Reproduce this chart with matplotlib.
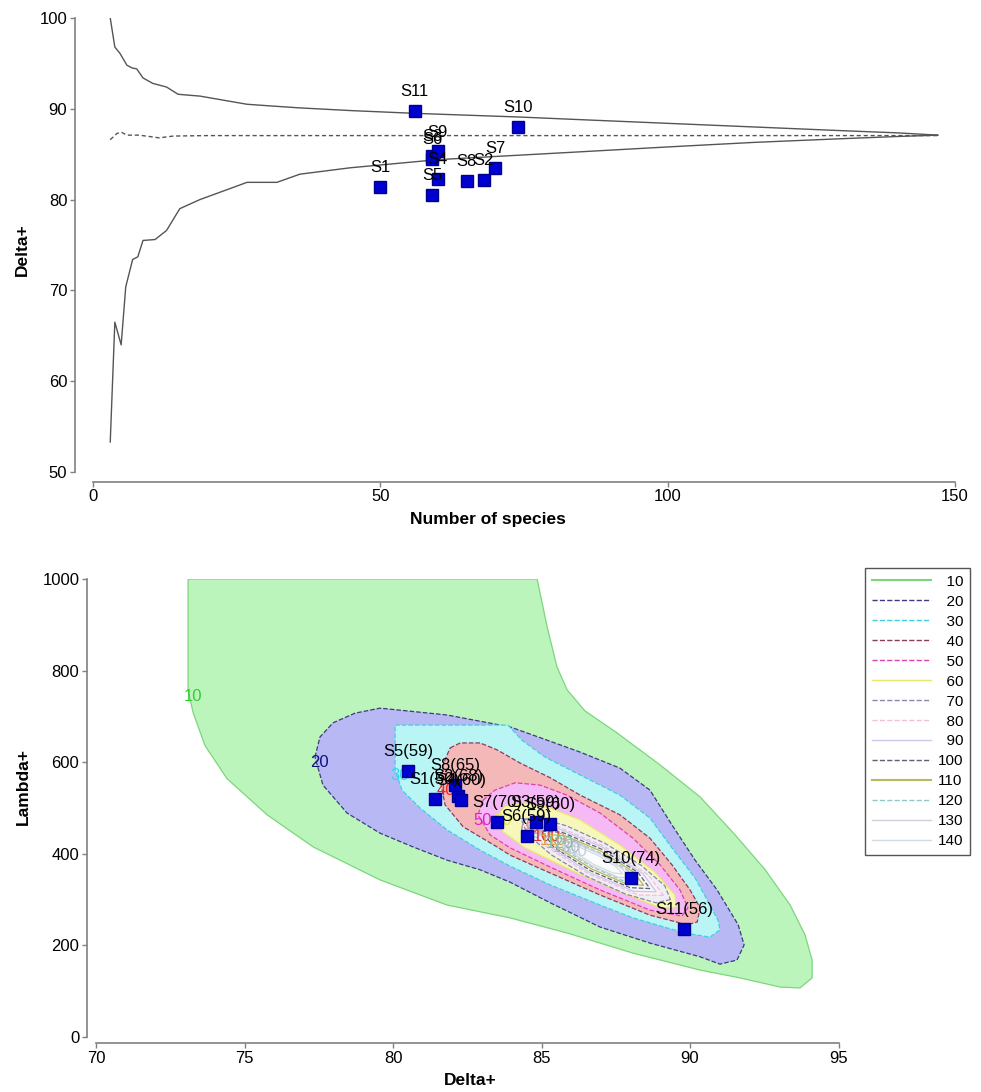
import numpy as np
import matplotlib
matplotlib.use('Agg')
import matplotlib.pyplot as plt
from matplotlib.lines import Line2D

plt.rcParams['font.family'] = ['Liberation Sans', 'DejaVu Sans']

#%% Sample values
sites = ['S1', 'S2', 'S3', 'S4', 'S5', 'S6', 'S7', 'S8', 'S9', 'S10', 'S11']
n_species = [50, 68, 59, 60, 59, 59, 70, 65, 60, 74, 56]
delta_plus = [81.4, 82.2, 84.8, 82.3, 80.5, 84.5, 83.5, 82.1, 85.3, 88.0, 89.8]
lambda_plus = [520, 526, 469, 517, 581, 439, 469, 550, 465, 347, 236]

#%% 95% funnel for Delta+ (top panel)
upper_x = [3, 3.8, 4.7, 5.9, 6.8, 7.6, 8.7, 10.4, 12.8, 14.8, 18.6, 26.8, 31.3, 36,
           45, 56, 65, 74, 85, 100, 115, 130, 140, 147]
upper_y = [100, 96.8, 96.1, 94.8, 94.5, 94.4, 93.4, 92.8, 92.4, 91.6, 91.4, 90.5, 90.3, 90.1,
           89.8, 89.5, 89.3, 89.1, 88.8, 88.4, 88.0, 87.6, 87.35, 87.1]
lower_x = [3, 3.8, 4.9, 5.7, 6.9, 7.8, 8.7, 10.8, 12.8, 15.1, 18.6, 26.8, 32, 36,
           44.7, 60, 83, 100, 115, 130, 140, 147]
lower_y = [53.3, 66.5, 64.0, 70.4, 73.4, 73.7, 75.5, 75.6, 76.6, 79.0, 80.0, 81.9, 81.9, 82.8,
           83.5, 84.4, 85.2, 85.8, 86.3, 86.7, 86.95, 87.1]
mean_x = [3, 4.2, 5, 5.9, 8, 10.4, 11.5, 14, 20, 147]
mean_y = [86.6, 87.3, 87.4, 87.1, 87.1, 86.9, 86.8, 87.0, 87.05, 87.05]

#%% Delta+/Lambda+ 95% regions per number of species (bottom panel)
levels = [10, 20, 30, 40, 50, 60, 70, 80, 90, 100, 110, 120, 130, 140]

region_10 = [(73.10, 1000), (84.85, 1000), (85.19, 895), (85.52, 808), (85.86, 758), (86.46, 712),
             (87.54, 664), (88.99, 594), (90.34, 524), (91.52, 441), (92.53, 365), (93.37, 288),
             (93.87, 223), (94.11, 168), (94.11, 129), (93.70, 107), (93.03, 109), (91.68, 129),
             (90.34, 146), (88.08, 183), (85.86, 227), (83.94, 260), (81.82, 288), (79.56, 343),
             (77.31, 415), (75.76, 485), (74.41, 564), (73.67, 636), (73.27, 708), (73.10, 756)]
region_20 = [(77.37, 611), (77.54, 655), (77.98, 686), (78.72, 707), (79.56, 718), (81.82, 703),
             (83.94, 677), (85.19, 648), (86.30, 622), (87.64, 587), (88.65, 539), (89.39, 463),
             (90.17, 386), (90.91, 321), (91.62, 245), (91.82, 201), (91.58, 168), (91.01, 159),
             (90.34, 175), (88.65, 205), (86.97, 240), (85.29, 293), (83.94, 338), (82.93, 365),
             (81.82, 386), (80.67, 415), (79.56, 445), (78.45, 489), (77.64, 550)]
region_30 = [(80.07, 681), (83.87, 681), (84.34, 648), (85.12, 611), (86.30, 572), (87.64, 528),
             (88.65, 478), (89.39, 413), (90.17, 347), (90.67, 288), (90.94, 255), (91.01, 234),
             (90.67, 218), (90.00, 225), (89.23, 238), (88.08, 260), (86.97, 288), (85.29, 332),
             (83.94, 373), (82.93, 408), (81.82, 452), (80.91, 500), (80.30, 539), (80.07, 583)]
region_40 = [(81.92, 631), (82.26, 642), (82.93, 642), (83.50, 627), (84.28, 598), (85.29, 566),
             (86.30, 528), (87.64, 485), (88.65, 434), (89.39, 376), (90.00, 321), (90.34, 282),
             (90.24, 251), (89.90, 245), (88.65, 266), (86.97, 310), (85.29, 358), (83.94, 397),
             (83.50, 415), (82.36, 459), (81.75, 507), (81.62, 550), (81.68, 594)]
region_50 = [(83.03, 517), (83.43, 539), (84.11, 555), (84.95, 550), (85.86, 528), (86.97, 489),
             (88.08, 434), (88.99, 376), (89.66, 321), (89.93, 282), (89.73, 264), (88.65, 277),
             (86.97, 321), (85.29, 371), (83.94, 413), (83.27, 441), (82.86, 485)]
region_60 = [(83.54, 485), (83.77, 504), (84.44, 511), (85.29, 500), (86.30, 474), (87.64, 419),
             (88.82, 360), (89.49, 310), (89.53, 282), (88.99, 282), (87.64, 317), (85.96, 365),
             (84.44, 413), (83.70, 448)]
region_70 = [(89.34, 300), (88.85, 293), (87.83, 312), (86.54, 350), (85.32, 398), (84.52, 443),
             (84.33, 473), (84.82, 480), (85.84, 461), (87.13, 423), (88.35, 375), (89.15, 330)]
region_80 = [(89.10, 309), (88.26, 310), (86.58, 356), (85.06, 420), (84.57, 464), (85.41, 463),
             (87.09, 417), (88.61, 353)]
region_90 = [(88.86, 317), (88.11, 318), (86.61, 359), (85.25, 417), (84.81, 456), (85.56, 455),
             (87.06, 414), (88.42, 356)]
region_100 = [(88.65, 324), (87.98, 326), (86.65, 363), (85.42, 414), (85.02, 449), (85.69, 447),
              (87.02, 410), (88.25, 359)]
region_110 = [(88.44, 331), (87.86, 334), (86.68, 367), (85.59, 412), (85.23, 442), (85.81, 439),
              (86.99, 406), (88.08, 361)]
region_120 = [(88.21, 339), (87.71, 342), (86.71, 371), (85.77, 409), (85.46, 434), (85.96, 431),
              (86.96, 402), (87.90, 364)]
region_130 = [(87.97, 347), (87.56, 349), (86.72, 373), (85.96, 405), (85.70, 426), (86.11, 424),
              (86.95, 400), (87.71, 368)]
region_140 = [(87.73, 356), (87.41, 358), (86.75, 377), (86.15, 402), (85.94, 417), (86.26, 415),
              (86.92, 396), (87.52, 371)]

regions = [region_10, region_20, region_30, region_40, region_50, region_60, region_70,
           region_80, region_90, region_100, region_110, region_120, region_130, region_140]

#%% Styles
fill_colors = ['#bbf5bb', '#b8b8f5', '#b9f5f5', '#f5b8b8', '#f5b9f5', '#f7f7b9', '#efeef7',
               '#fbf0f5', '#f5f5fc', '#f8f5f5', '#f8f8ea', '#f0f8f8', '#f9f9fc', '#fbfcfd']
edge_colors = ['#7cd67c', '#3c3c7c', '#40d0e0', '#8c3c5c', '#e040b0', '#e8e870', '#8888aa',
               '#f0c0d8', '#c8c8e8', '#606070', '#b8b860', '#90c8c8', '#d0d0dc', '#d0dce4']
line_styles = ['-', '--', '--', '--', '--', '-', '--', '--', '-', '--', '-', '--', '-', '-']
label_colors = ['#33cc33', '#101080', '#33d6f0', '#ee2222', '#dd22cc', '#e6e64a', '#9a9ac0',
                '#ff8c8c', '#b0b0e0', '#c83c3c', '#e0a040', '#80c0a0', '#b0b0c0', '#c0d0d8']
spine_gray = '#808080'
marker_kw = dict(marker='s', markersize=8.5, markerfacecolor='#0000d0',
                 markeredgecolor='#000090', linestyle='none', zorder=30)


def style_axes(ax, left_out, bottom_out):
    for side in ['top', 'right']:
        ax.spines[side].set_visible(False)
    for side, off in [('left', left_out), ('bottom', bottom_out)]:
        ax.spines[side].set_position(('outward', off))
        ax.spines[side].set_color(spine_gray)
        ax.spines[side].set_linewidth(1.2)
    ax.tick_params(colors=spine_gray, labelcolor='black', labelsize=12,
                   length=3.5, width=1.0, pad=2)


fig = plt.figure(figsize=(9.81, 10.92), dpi=100)

#%% Top panel: Delta+ funnel
ax1 = fig.add_axes([0.0948, 0.5678, 0.8787, 0.4157])
ax1.plot(upper_x, upper_y, color='#555555', lw=1.0)
ax1.plot(lower_x, lower_y, color='#555555', lw=1.0)
ax1.plot(mean_x, mean_y, color='#555555', lw=1.0, dashes=(3, 2))
ax1.plot(n_species, delta_plus, **marker_kw)
for name, x, y in zip(sites, n_species, delta_plus):
    ax1.annotate(name, (x, y), xytext=(0, 14), textcoords='offset points',
                 ha='center', va='center', fontsize=12, zorder=31)
ax1.set_xlim(0, 150)
ax1.set_ylim(50, 100)
ax1.set_xticks([0, 50, 100, 150])
ax1.set_yticks([50, 60, 70, 80, 90, 100])
style_axes(ax1, 13, 7)
ax1.spines['left'].set_bounds(50, 100)
ax1.spines['bottom'].set_bounds(0, 150)
ax1.set_xlabel('Number of species', fontsize=12.5, fontweight='bold')
ax1.set_ylabel('Delta+', fontsize=12.5, fontweight='bold')
ax1.xaxis.set_label_coords(0.458, -0.088)
ax1.yaxis.set_label_coords(-0.073, 0.49)

#%% Bottom panel: Delta+ vs Lambda+ regions
ax2 = fig.add_axes([0.0979, 0.0504, 0.7569, 0.4194])
handles = []
for i, (lev, reg) in enumerate(zip(levels, regions)):
    xs = np.array([p[0] for p in reg])
    ys = np.array([p[1] for p in reg])
    ax2.fill(xs, ys, facecolor=fill_colors[i], edgecolor=edge_colors[i],
             linestyle=line_styles[i], linewidth=0.9, zorder=2 + i)
    k = np.argmin(xs + 1e-6 * ys)
    ax2.text(xs[k] + 0.15, ys[k] - 12, str(lev), color=label_colors[i], fontsize=12,
             ha='center', va='center', zorder=20)
    handles.append(Line2D([], [], color=edge_colors[i], linestyle=line_styles[i],
                          linewidth=1.5 if i in (0, 10) else 1.0))

ax2.plot(delta_plus, lambda_plus, **marker_kw)
for name, n, x, y in zip(sites, n_species, delta_plus, lambda_plus):
    ax2.annotate('%s(%d)' % (name, n), (x, y), xytext=(0, 14), textcoords='offset points',
                 ha='center', va='center', fontsize=12, zorder=31)
ax2.set_xlim(70, 95)
ax2.set_ylim(0, 1000)
ax2.set_xticks([70, 75, 80, 85, 90, 95])
ax2.set_yticks([0, 200, 400, 600, 800, 1000])
style_axes(ax2, 6.5, 4.5)
ax2.spines['left'].set_bounds(0, 1000)
ax2.spines['bottom'].set_bounds(70, 95)
ax2.set_xlabel('Delta+', fontsize=12.5, fontweight='bold')
ax2.set_ylabel('Lambda+', fontsize=12.5, fontweight='bold')
ax2.xaxis.set_label_coords(0.504, -0.078)
ax2.yaxis.set_label_coords(-0.088, 0.546)

# legend numbers padded with figure spaces so they line up on the right
legend_labels = [str(v).rjust(3, '\u2007') for v in levels]
leg = ax2.legend(handles, legend_labels, loc='upper right',
                 bbox_to_anchor=(0.9887, 0.4799), bbox_transform=fig.transFigure,
                 fontsize=11, handlelength=3.9, handletextpad=0.4, labelspacing=0.39,
                 borderpad=0.45, borderaxespad=0, fancybox=False, framealpha=1)
leg.get_frame().set_edgecolor('#555555')
leg.get_frame().set_linewidth(1.0)

fig.savefig('out.png', dpi=100)
